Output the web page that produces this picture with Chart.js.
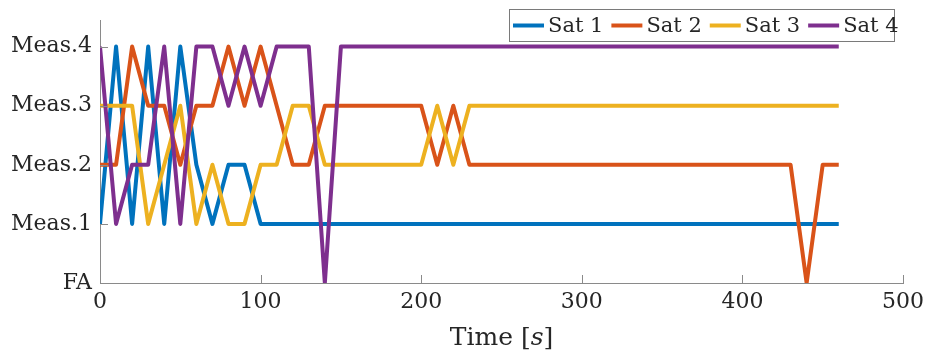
<!DOCTYPE html>
<html>
<head>
<meta charset="utf-8">
<script src="https://cdn.jsdelivr.net/npm/chart.js"></script>
<style>
  html, body { margin: 0; padding: 0; background: #fff; }
  #wrap { width: 925px; height: 354px; }
</style>
</head>
<body>
<div id="wrap"><canvas id="satChart" width="925" height="354"></canvas></div>
<script>
// time axis (s)
const times = [
  0, 10, 20, 30, 40, 50, 60, 70, 80, 90,
  100, 110, 120, 130, 140, 150, 160, 170, 180, 190,
  200, 210, 220, 230, 240, 250, 260, 270, 280, 290,
  300, 310, 320, 330, 340, 350, 360, 370, 380, 390,
  400, 410, 420, 430, 440, 450, 460
];

// 0 = FA, 1..4 = Meas.1..Meas.4
const sat1 = [
  1, 4, 1, 4, 1, 4, 2, 1, 2, 2,
  1, 1, 1, 1, 1, 1, 1, 1, 1, 1,
  1, 1, 1, 1, 1, 1, 1, 1, 1, 1,
  1, 1, 1, 1, 1, 1, 1, 1, 1, 1,
  1, 1, 1, 1, 1, 1, 1
];
const sat2 = [
  2, 2, 4, 3, 3, 2, 3, 3, 4, 3,
  4, 3, 2, 2, 3, 3, 3, 3, 3, 3,
  3, 2, 3, 2, 2, 2, 2, 2, 2, 2,
  2, 2, 2, 2, 2, 2, 2, 2, 2, 2,
  2, 2, 2, 2, 0, 2, 2
];
const sat3 = [
  3, 3, 3, 1, 2, 3, 1, 2, 1, 1,
  2, 2, 3, 3, 2, 2, 2, 2, 2, 2,
  2, 3, 2, 3, 3, 3, 3, 3, 3, 3,
  3, 3, 3, 3, 3, 3, 3, 3, 3, 3,
  3, 3, 3, 3, 3, 3, 3
];
const sat4 = [
  4, 1, 2, 2, 4, 1, 4, 4, 3, 4,
  3, 4, 4, 4, 0, 4, 4, 4, 4, 4,
  4, 4, 4, 4, 4, 4, 4, 4, 4, 4,
  4, 4, 4, 4, 4, 4, 4, 4, 4, 4,
  4, 4, 4, 4, 4, 4, 4
];

const seriesNames = ["Sat 1", "Sat 2", "Sat 3", "Sat 4"];
const yLabels = ["FA", "Meas.1", "Meas.2", "Meas.3", "Meas.4"];
const xTicks = [0, 100, 200, 300, 400, 500];
const colors = ["#0072BD", "#D95319", "#EDB120", "#7E2F8E"];

const FONT = "'DejaVu Serif', 'Liberation Serif', serif";
const TEXT = "#262626";
const AXIS = "#8a8a8a";

// inward tick marks, boxed legend and x label with italic s
const decorations = {
  id: "decorations",
  afterDraw(chart) {
    const ctx = chart.ctx;
    const xs = chart.scales.x, ys = chart.scales.y;
    const area = chart.chartArea;
    ctx.save();
    ctx.strokeStyle = AXIS;
    ctx.lineWidth = 1;
    ctx.beginPath();
    xTicks.forEach(v => {
      const px = Math.round(xs.getPixelForValue(v)) + 0.5;
      ctx.moveTo(px, area.bottom);
      ctx.lineTo(px, area.bottom - 8);
    });
    yLabels.forEach((_, v) => {
      const py = Math.round(ys.getPixelForValue(v)) + 0.5;
      ctx.moveTo(area.left, py);
      ctx.lineTo(area.left + 8, py);
    });
    ctx.stroke();

    // legend
    const lx = 509, ly = 9, lw = 385, lh = 32;
    ctx.fillStyle = "#fff";
    ctx.fillRect(lx, ly, lw, lh);
    ctx.strokeStyle = "#7a7a7a";
    ctx.strokeRect(lx + 0.5, ly + 0.5, lw, lh);
    ctx.font = "21px " + FONT;
    ctx.textBaseline = "middle";
    ctx.textAlign = "left";
    let x = lx + 4;
    const cy = ly + lh / 2 + 0.5;
    chart.data.datasets.forEach(ds => {
      ctx.strokeStyle = ds.borderColor;
      ctx.lineWidth = 4;
      ctx.beginPath();
      ctx.moveTo(x, cy);
      ctx.lineTo(x + 31, cy);
      ctx.stroke();
      ctx.fillStyle = TEXT;
      ctx.fillText(ds.label, x + 35, cy + 1);
      x += 35 + ctx.measureText(ds.label).width + 8;
    });

    // x axis title: Time [s]
    const parts = [["Time [", "normal"], ["s", "italic"], ["]", "normal"]];
    let total = 0;
    parts.forEach(p => {
      ctx.font = p[1] + " 25px " + FONT;
      total += ctx.measureText(p[0]).width;
    });
    let tx = (area.left + area.right) / 2 - total / 2;
    ctx.fillStyle = TEXT;
    ctx.textBaseline = "alphabetic";
    parts.forEach(p => {
      ctx.font = p[1] + " 25px " + FONT;
      ctx.fillText(p[0], tx, 345);
      tx += ctx.measureText(p[0]).width;
    });
    ctx.restore();
  }
};

const seriesData = [sat1, sat2, sat3, sat4];

new Chart(document.getElementById("satChart"), {
  type: "line",
  data: {
    datasets: seriesData.map((vals, i) => ({
      label: seriesNames[i],
      data: vals.map((v, k) => ({ x: times[k], y: v })),
      borderColor: colors[i],
      backgroundColor: colors[i],
      borderWidth: 4,
      borderJoinStyle: "round",
      pointRadius: 0,
      tension: 0,
      fill: false,
      order: seriesData.length - i
    }))
  },
  options: {
    responsive: false,
    animation: false,
    devicePixelRatio: 1,
    layout: { padding: { top: 20, right: 22, left: 0, bottom: 0 } },
    plugins: {
      legend: { display: false },
      tooltip: { enabled: false }
    },
    scales: {
      x: {
        type: "linear",
        min: 0,
        max: 500,
        afterBuildTicks: scale => { scale.ticks = xTicks.map(v => ({ value: v })); },
        afterFit: scale => {
          scale.height = 71;
          scale.paddingLeft = 0;
          scale.paddingRight = 0;
        },
        grid: { display: false, drawTicks: false },
        border: { display: true, color: AXIS, width: 1 },
        ticks: { color: TEXT, font: { family: FONT, size: 22 }, padding: 6, maxRotation: 0 }
      },
      y: {
        type: "linear",
        min: 0,
        max: 4.45,
        afterBuildTicks: scale => { scale.ticks = yLabels.map((_, v) => ({ value: v })); },
        afterFit: scale => {
          scale.width = 100;
          scale.paddingTop = 0;
          scale.paddingBottom = 0;
        },
        grid: { display: false, drawTicks: false },
        border: { display: true, color: AXIS, width: 1 },
        ticks: {
          color: TEXT,
          font: { family: FONT, size: 22 },
          padding: 8,
          callback: v => yLabels[v]
        }
      }
    }
  },
  plugins: [decorations]
});
</script>
</body>
</html>
